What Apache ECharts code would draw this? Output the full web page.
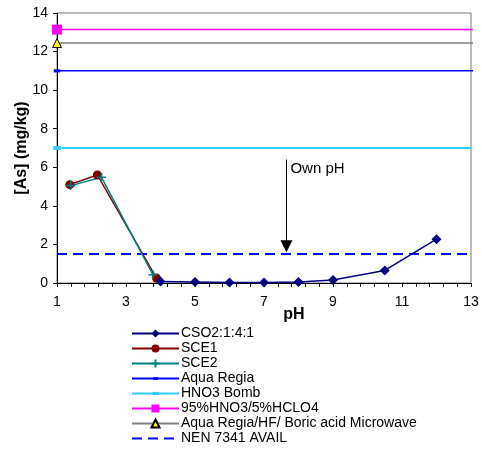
<!DOCTYPE html>
<html><head><meta charset="utf-8">
<script src="https://cdn.jsdelivr.net/npm/echarts@6/dist/echarts.min.js"></script>
<style>html,body{margin:0;padding:0;background:#fff}#c{width:482px;height:450px}</style>
</head><body><div id="c"></div>
<script>
// Data
const csoX = [4.0, 5.0, 6.0, 7.0, 8.0, 9.0, 10.5, 12.0];
const csoY = [0.08, 0.05, 0.02, 0.02, 0.05, 0.15, 0.65, 2.27];
const sce1X = [1.37, 2.17, 3.88];
const sce1Y = [5.1, 5.6, 0.26];
const sce2X = [1.40, 2.29, 3.78];
const sce2Y = [5.05, 5.48, 0.43];
const refX = [1, 13.17];
const aquaRegia = 11.0;
const hno3Bomb = 7.0;
const hclo4 = 13.14;
const microwave = 12.44;
const nenX = [1, 13];
const nen = 1.5;
const arrowPH = 7.65;
const arrowY = [6.4, 1.9];
const xTicks = {min: 1, max: 13, interval: 2};
const yTicks = {min: 0, max: 14, interval: 2};

const zip = (xs, ys) => xs.map((x, i) => [x, ys[i]]);
const refLine = (y, sym) => refX.map((x, i) => i === 0 ? {value: [x, y], symbol: sym} : {value: [x, y], symbol: 'none'});

const font = 'Arial, "Liberation Sans", sans-serif';
const chart = echarts.init(document.getElementById('c'), null, {renderer: 'canvas'});
const plus = 'path://M5,0 L5,10 M0,5 L10,5';
const dash = 'path://M0,0 M10,10 M1.8,3.4 L8.2,3.4 L8.2,6.6 L1.8,6.6 Z';
const dash2 = 'path://M0,0 M10,10 M1.2,3.0 L8.8,3.0 L8.8,7.0 L1.2,7.0 Z';
const empty = 'path://M0,0 M10,10';
chart.setOption({
  animation: false,
  textStyle: {fontFamily: font},
  grid: {left: 57, right: 11, top: 13, bottom: 167, show: true, borderColor: '#777', borderWidth: 1,
         containLabel: false, outerBoundsMode: 'none'},
  xAxis: {
    type: 'value', min: xTicks.min, max: xTicks.max, interval: xTicks.interval,
    name: 'pH', nameLocation: 'middle', nameGap: 24, nameMoveOverlap: false,
    nameTextStyle: {fontFamily: font, fontSize: 16, fontWeight: 'bold', color: '#000', padding: [0, 0, 0, 60]},
    axisLine: {lineStyle: {color: '#000', width: 1}},
    axisTick: {show: true, length: 4, lineStyle: {color: '#000'}},
    minorTick: {show: true, splitNumber: 5, length: 4, lineStyle: {color: '#000'}},
    axisLabel: {fontFamily: font, fontSize: 14, color: '#000', margin: 12},
    splitLine: {show: false}
  },
  yAxis: {
    type: 'value', min: yTicks.min, max: yTicks.max, interval: yTicks.interval,
    name: '[As] (mg/kg)', nameLocation: 'middle', nameGap: 27, nameMoveOverlap: false,
    nameTextStyle: {fontFamily: font, fontSize: 16, fontWeight: 'bold', color: '#000'},
    axisLine: {show: true, lineStyle: {color: '#000', width: 1}},
    axisTick: {show: true, length: 4, lineStyle: {color: '#000'}},
    axisLabel: {fontFamily: font, fontSize: 14, color: '#000', margin: 9},
    splitLine: {show: false}
  },
  legend: {
    orient: 'vertical', left: 126, top: 321, height: 130, itemWidth: 47, itemHeight: 10, itemGap: 0,
    textStyle: {fontFamily: font, fontSize: 14, lineHeight: 15, color: '#000', padding: [0, 0, 0, -3]},
    data: ['CSO2:1:4:1', 'SCE1', 'SCE2', 'Aqua Regia', 'HNO3 Bomb', '95%HNO3/5%HCLO4', 'Aqua Regia/HF/ Boric acid Microwave', 'NEN 7341 AVAIL']
  },
  series: [
    {name: 'Aqua Regia', type: 'line', data: refLine(aquaRegia, dash), symbol: dash, symbolSize: 10, clip: false,
     lineStyle: {color: '#0000FF', width: 1.5}, itemStyle: {color: '#0000FF'}},
    {name: 'HNO3 Bomb', type: 'line', data: refLine(hno3Bomb, dash2), symbol: dash2, symbolSize: 10, clip: false,
     lineStyle: {color: '#33CCFF', width: 2}, itemStyle: {color: '#33CCFF'}},
    {name: '95%HNO3/5%HCLO4', type: 'line', data: refLine(hclo4, 'rect'), symbol: 'rect', symbolSize: 10, clip: false,
     lineStyle: {color: '#FF00FF', width: 1.5}, itemStyle: {color: '#FF00FF'}},
    {name: 'Aqua Regia/HF/ Boric acid Microwave', type: 'line', data: refLine(microwave, 'triangle'), symbol: 'triangle', symbolSize: 9, clip: false,
     lineStyle: {color: '#808080', width: 1.5}, itemStyle: {color: '#FFFF00', borderColor: '#000', borderWidth: 1}},
    {name: 'NEN 7341 AVAIL', type: 'line', data: zip(nenX, [nen, nen]), symbol: empty, showSymbol: false,
     lineStyle: {color: '#0000FF', width: 2, type: [10, 6]}, itemStyle: {color: '#0000FF'}},
    {name: 'SCE1', type: 'line', data: zip(sce1X, sce1Y), symbol: 'circle', symbolSize: 9,
     lineStyle: {color: '#800000', width: 1.5}, itemStyle: {color: '#800000'}},
    {name: 'SCE2', type: 'line', data: zip(sce2X, sce2Y), symbol: plus, symbolSize: 9,
     lineStyle: {color: '#008080', width: 1.5}, itemStyle: {color: '#008080', borderColor: '#008080', borderWidth: 1.5}},
    {name: 'CSO2:1:4:1', type: 'line', data: zip(csoX, csoY), symbol: 'diamond', symbolSize: 10,
     lineStyle: {color: '#000080', width: 1.5}, itemStyle: {color: '#000080'},
     markLine: {silent: true, symbol: ['none', 'triangle'], symbolSize: [12, 12], symbolRotate: 180,
       lineStyle: {color: '#000', width: 1, type: 'solid'}, label: {show: false},
       data: [[{coord: [arrowPH, arrowY[0]]}, {coord: [arrowPH, arrowY[1]]}]]}}
  ]
});
const p = chart.convertToPixel({gridIndex: 0}, [arrowPH, arrowY[0]]);
chart.setOption({graphic: [{type: 'text', left: p[0] + 4, top: p[1] + 2,
  style: {text: 'Own pH', font: '15px ' + font, fill: '#000'}}]});
</script></body></html>
